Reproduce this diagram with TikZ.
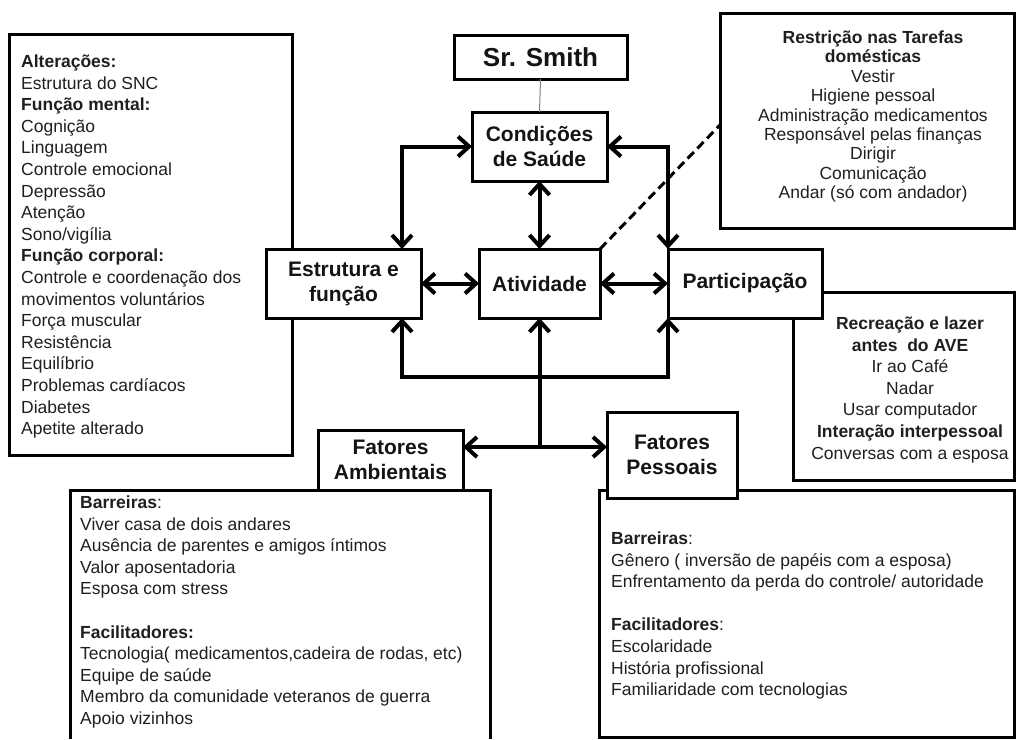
\documentclass[tikz,border=0pt]{standalone}
\usepackage{fontspec}
\setmainfont{Liberation Sans}
\usetikzlibrary{arrows.meta}
\begin{document}
\begin{tikzpicture}[x=1pt,y=-1pt,
  box/.style={draw=black, line width=3pt, fill=white, inner sep=0pt, outer sep=0pt},
  head/.style={font=\bfseries\fontsize{21}{25}\selectfont, align=center, text=black!92},
  body/.style={font=\fontsize{17.5}{21.6}\selectfont, inner sep=0pt, text=black!88},
  narrow/.style={font=\fontsize{17.5}{19.4}\selectfont},
  arr/.style={draw=black, line width=4pt, >={Straight Barb[length=11pt,width=20pt]}},
]
\useasboundingbox (0,0) rectangle (1016,739);

% background boxes
\node[box, minimum width=283pt, minimum height=421pt] (leftbox) at (150.5,244.5) {};
\node[box, minimum width=294.5pt, minimum height=215pt] (restr) at (867.25,120.5) {};
\node[box, minimum width=221.5pt, minimum height=188pt] (recr) at (903.75,386) {};
\draw[line width=3pt] (70,739) -- (70,490) -- (490,490) -- (490,739);
\node[box, minimum width=415pt, minimum height=247pt] (pesbig) at (806.5,613.5) {};

% main boxes
\node[box, minimum width=173pt, minimum height=44pt, font=\bfseries\fontsize{26}{30}\selectfont, text=black!92] (smith) at (540.5,57) {Sr. Smith};
\node[box, head, minimum width=135pt, minimum height=69pt] (cond) at (539.5,146.5) {Condições\\de Saúde};
\node[box, head, minimum width=155pt, minimum height=69pt] (estr) at (343.5,283.5) {Estrutura e\\função};
\node[box, head, minimum width=121pt, minimum height=69pt] (ativ) at (539.5,283.5) {Atividade};
\node[box, head, minimum width=154pt, minimum height=69pt] (part) at (745,283.5) {Participação};
\node[box, head, minimum width=145pt, minimum height=60pt] (ambh) at (390.5,460) {Fatores\\Ambientais};
\node[box, head, minimum width=130pt, minimum height=86pt] (pesh) at (672,455) {Fatores\\Pessoais};

% connectors
\draw[gray, line width=1pt] (smith.south) -- (cond.north);
\draw[line width=3pt, dash pattern=on 9pt off 5pt] (ativ.north east) -- ([yshift=-4.5pt]restr.west);
\draw[arr,<->] (cond.west) -| ([xshift=-19pt]estr.north east);
\draw[arr,<->] (cond.east) -| (part.north west);
\draw[arr,<->] (cond.south) -- (ativ.north);
\draw[arr,<->] (estr.east) -- (ativ.west);
\draw[arr,<->] (ativ.east) -- (part.west);
\draw[arr,<->] ([xshift=-19pt]estr.south east) -- ++(0,59) -| (part.south west);
\coordinate (fork) at (539.5,447);
\draw[arr,->] (fork) -- (ativ.south);
\draw[arr,<->] (ambh.east |- fork) -- (pesh.west |- fork);

% texts
\node[body, anchor=north west, align=left] (lefttext) at (21,52.2) {\strut\textbf{Alterações:}\\
Estrutura do SNC\\
\textbf{Função mental:}\\
Cognição\\
Linguagem\\
Controle emocional\\
Depressão\\
Atenção\\
Sono/vigília\\
\textbf{Função corporal:}\\
Controle e coordenação dos\\
movimentos voluntários\\
Força muscular\\
Resistência\\
Equilíbrio\\
Problemas  cardíacos\\
Diabetes\\
Apetite alterado};

\node[body, narrow, anchor=north, align=center] (restrtext) at (873,29.7) {\strut\textbf{Restrição nas Tarefas}\\
\textbf{domésticas}\\
Vestir\\
Higiene pessoal\\
Administração medicamentos\\
Responsável pelas finanças\\
Dirigir\\
Comunicação\\
Andar (só com andador)};

\node[body, anchor=north, align=center] (recrtext) at (910,314.2) {\strut\textbf{Recreação e lazer}\\
\textbf{antes~~do AVE}\\
Ir ao Café\\
Nadar\\
Usar computador\\
\textbf{Interação interpessoal}\\
Conversas com a esposa};

\node[body, anchor=north west, align=left] (ambtext) at (80,493.2) {\strut\textbf{Barreiras}:\\
Viver casa de dois andares\\
Ausência de parentes e amigos íntimos\\
Valor aposentadoria\\
Esposa com stress\\
~\\
\textbf{Facilitadores:}\\
Tecnologia( medicamentos,cadeira de rodas, etc)\\
Equipe de saúde\\
Membro da comunidade veteranos de guerra\\
Apoio vizinhos};

\node[body, anchor=north west, align=left] (pestext) at (611,529.2) {\strut\textbf{Barreiras}:\\
Gênero ( inversão de papéis com a esposa)\\
Enfrentamento da perda do controle/ autoridade\\
~\\
\textbf{Facilitadores}:\\
Escolaridade\\
História profissional\\
Familiaridade com tecnologias};
\end{tikzpicture}
\end{document}
